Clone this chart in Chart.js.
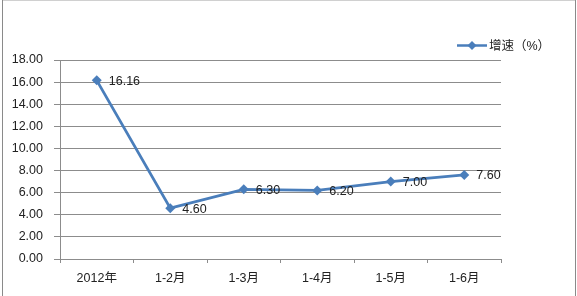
<!DOCTYPE html>
<html>
<head>
<meta charset="utf-8">
<script src="https://cdn.jsdelivr.net/npm/chart.js@4/dist/chart.umd.min.js"></script>
<style>
  html, body { margin: 0; padding: 0; background: #fff; }
  canvas { display: block; }
</style>
</head>
<body>
<canvas id="myChart" width="577" height="296"></canvas>
<script>
// data
const categories = ["2012年", "1-2月", "1-3月", "1-4月", "1-5月", "1-6月"];
const growthValues = [16.16, 4.60, 6.30, 6.20, 7.00, 7.60];
const seriesName = "增速（%）";
const yTicks = [0, 2, 4, 6, 8, 10, 12, 14, 16, 18];

const lineColor = "#4A7EBB";
const gridColor = "#8c8c8c";
const textFont = "'Liberation Sans', 'Noto Sans CJK SC', sans-serif";

// frame + white background
const framePlugin = {
    id: 'frame',
    beforeDraw(chart) {
        const ctx = chart.ctx;
        ctx.save();
        ctx.fillStyle = "#fff";
        ctx.fillRect(0, 0, chart.width, chart.height);
        ctx.lineWidth = 1;
        ctx.strokeStyle = "#d0d0d0";
        ctx.beginPath();
        ctx.moveTo(2, 0.5); ctx.lineTo(576, 0.5);
        ctx.stroke();
        ctx.strokeStyle = "#8a8a8a";
        ctx.beginPath();
        ctx.moveTo(2.5, 0); ctx.lineTo(2.5, 296);
        ctx.moveTo(575.5, 0); ctx.lineTo(575.5, 296);
        ctx.stroke();
        ctx.restore();
    }
};

// value labels right of each point
const valueLabels = {
    id: 'valueLabels',
    afterDatasetsDraw(chart) {
        const ctx = chart.ctx;
        const meta = chart.getDatasetMeta(0);
        ctx.save();
        ctx.font = "12.5px " + textFont;
        ctx.fillStyle = "#222";
        ctx.textAlign = "left";
        ctx.textBaseline = "middle";
        meta.data.forEach(function (pt, i) {
            ctx.fillText(growthValues[i].toFixed(2), pt.x + 12, pt.y + 1);
        });
        ctx.restore();
    }
};

// legend: line with diamond + name, top right
const lineLegend = {
    id: 'lineLegend',
    afterDraw(chart) {
        const ctx = chart.ctx;
        const y = 45.5;
        ctx.save();
        ctx.strokeStyle = lineColor;
        ctx.lineWidth = 2.5;
        ctx.beginPath();
        ctx.moveTo(457, y); ctx.lineTo(487, y);
        ctx.stroke();
        ctx.fillStyle = lineColor;
        ctx.beginPath();
        ctx.moveTo(472, y - 4.5); ctx.lineTo(476.5, y);
        ctx.lineTo(472, y + 4.5); ctx.lineTo(467.5, y);
        ctx.closePath();
        ctx.fill();
        ctx.font = "12.5px " + textFont;
        ctx.fillStyle = "#222";
        ctx.textBaseline = "middle";
        ctx.fillText(seriesName, 489, y + 1);
        ctx.restore();
    }
};

new Chart("myChart", {
    type: "line",
    data: {
        labels: categories,
        datasets: [{
            label: seriesName,
            data: growthValues,
            borderColor: lineColor,
            backgroundColor: lineColor,
            borderWidth: 2.8,
            pointStyle: "rectRot",
            pointRadius: 5,
            pointBorderWidth: 0,
            tension: 0
        }]
    },
    options: {
        responsive: false,
        animation: false,
        layout: { padding: { left: 0, top: 60, right: 76, bottom: 0 } },
        plugins: {
            legend: { display: false },
            tooltip: { enabled: false }
        },
        scales: {
            x: {
                offset: true,
                afterFit: function (scale) { scale.height = 37; },
                grid: {
                    offset: true,
                    drawOnChartArea: false,
                    tickLength: 4,
                    color: gridColor
                },
                border: { color: gridColor },
                ticks: {
                    padding: 8,
                    color: "#222",
                    font: { family: textFont, size: 12.5 },
                    maxRotation: 0
                }
            },
            y: {
                min: 0,
                max: 18,
                afterFit: function (scale) { scale.width = 60; },
                afterBuildTicks: function (scale) {
                    scale.ticks = yTicks.map(function (v) { return { value: v }; });
                },
                grid: {
                    color: gridColor,
                    tickLength: 6
                },
                border: { color: gridColor },
                ticks: {
                    padding: 11,
                    color: "#222",
                    font: { family: textFont, size: 12.5 },
                    callback: function (v) { return Number(v).toFixed(2); }
                }
            }
        }
    },
    plugins: [framePlugin, valueLabels, lineLegend]
});
</script>
</body>
</html>
